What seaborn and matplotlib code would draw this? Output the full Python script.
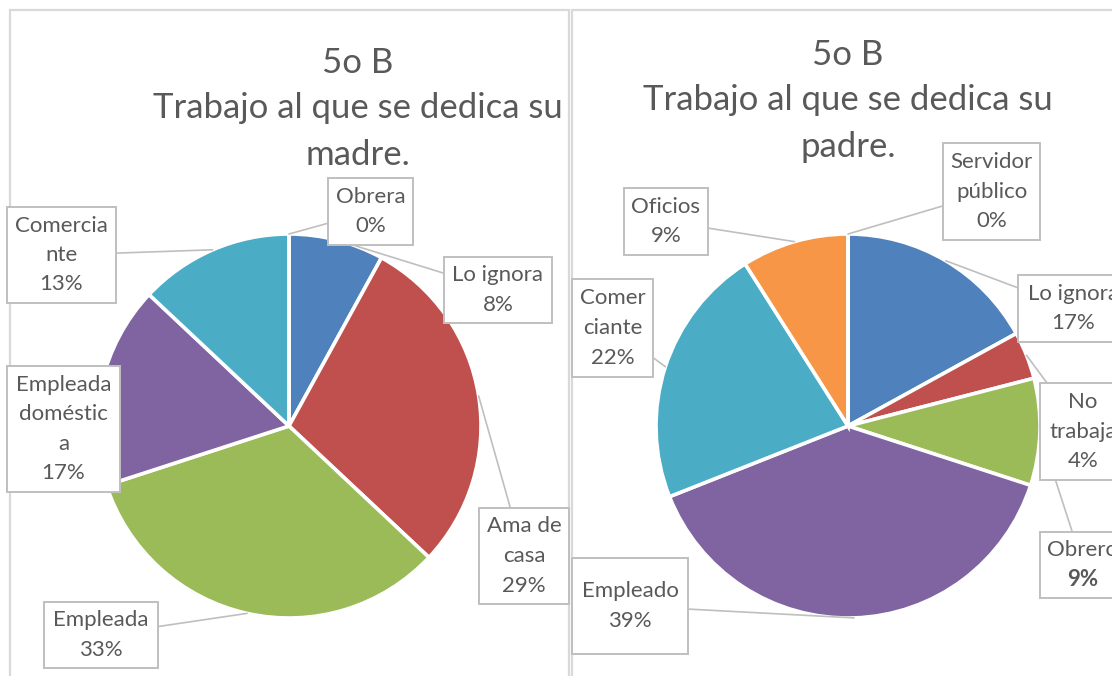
import matplotlib
matplotlib.use("Agg")
import matplotlib.pyplot as plt
import seaborn as sns
from matplotlib.patches import Rectangle
import numpy as np

W, H = 1112, 676

# Datos: madre
madre_cats = ["Lo ignora", "Ama de casa", "Empleada", "Empleada doméstica",
              "Comerciante", "Obrera"]
madre_pct = [8, 29, 33, 17, 13, 0]
madre_wrap = [["Lo ignora"], ["Ama de", "casa"], ["Empleada"],
              ["Empleada", "doméstic", "a"], ["Comercia", "nte"], ["Obrera"]]

# Datos: padre
padre_cats = ["Lo ignora", "No trabaja", "Obrero", "Empleado", "Comerciante",
              "Oficios", "Servidor público"]
padre_pct = [17, 4, 9, 39, 22, 9, 0]
padre_wrap = [["Lo ignora"], ["No", "trabaja"], ["Obrero"], ["Empleado"],
              ["Comer", "ciante"], ["Oficios"], ["Servidor", "público"]]

# cajas de etiquetas (x0, y0, x1, y1) en pixeles
madre_boxes = [(444, 257, 552, 323), (479, 508, 569, 604), (44, 602, 158, 668),
               (7, 366, 120, 492), (7, 207, 116, 303), (328, 178, 413, 245)]
padre_boxes = [(1018, 275, 1128, 342), (1040, 383, 1126, 480),
               (1040, 532, 1126, 598), (572, 558, 688, 654),
               (572, 279, 653, 377), (624, 188, 708, 255),
               (943, 143, 1040, 240)]

colors = sns.color_palette(["#4F81BD", "#C0504D", "#9BBB59", "#8064A2",
                            "#4BACC6", "#F79646", "#2C4D75"])
TXT = "#595959"
LINE = 29.5

sns.set_theme(style="white")
plt.rcParams['font.family'] = ['Lato', 'DejaVu Sans']

fig = plt.figure(figsize=(W / 100, H / 100), dpi=100)
ax = fig.add_axes([0, 0, 1, 1])


def draw_pie(values, wrap, boxes, center, title_y, title_x, bold_idx=None):
    cx, cy = center
    r = 192
    wedges, _ = ax.pie(values, colors=colors[:len(values)], startangle=90,
                       counterclock=False, center=(cx, H - cy), radius=r,
                       wedgeprops=dict(edgecolor="white", linewidth=2.6))
    for w in wedges:
        w.set_zorder(2)
    # titulo
    for line, y in zip(["5o B", "Trabajo al que se dedica su", title_y[0]],
                       title_y[1]):
        ax.text(title_x, H - y, line, ha="center", va="center",
                fontsize=25, color=TXT, zorder=5)
    # etiquetas
    for i, (w, v, lines, b) in enumerate(zip(wedges, values, wrap, boxes)):
        mid = np.deg2rad((w.theta1 + w.theta2) / 2)
        px = cx + r * np.cos(mid)
        py = (H - cy) + r * np.sin(mid)
        bx = (b[0] + b[2]) / 2
        by = (b[1] + b[3]) / 2
        ax.plot([px, bx], [py, H - by], color="#BFBFBF", lw=1.2, zorder=3)
        ax.add_patch(Rectangle((b[0], H - b[3]), b[2] - b[0], b[3] - b[1],
                               facecolor="white", edgecolor="#BFBFBF",
                               lw=1.4, zorder=4))
        allines = lines + [f"{v}%"]
        n = len(allines)
        for k, t in enumerate(allines):
            y = by + (k - (n - 1) / 2) * LINE
            weight = "bold" if (i == bold_idx and k == n - 1) else "normal"
            ax.text(bx, H - y, t, ha="center", va="center", fontsize=16,
                    color=TXT, fontweight=weight, zorder=5)


draw_pie(madre_pct, madre_wrap, madre_boxes, (289, 426),
         ("madre.", [63, 108, 155]), 358)
draw_pie(padre_pct, padre_wrap, padre_boxes, (848, 426),
         ("padre.", [55, 100, 147]), 848, bold_idx=2)

# bordes de los graficos
ax.add_patch(Rectangle((10, -20), 559, H - 10 + 20, fill=False,
                       edgecolor="#D9D9D9", lw=1.6, zorder=1))
ax.add_patch(Rectangle((572, -20), 580, H - 10 + 20, fill=False,
                       edgecolor="#D9D9D9", lw=1.6, zorder=1))

ax.set_xlim(0, W)
ax.set_ylim(0, H)
ax.set_aspect("equal")
ax.axis("off")

fig.savefig("out.png", dpi=100, facecolor="white")
